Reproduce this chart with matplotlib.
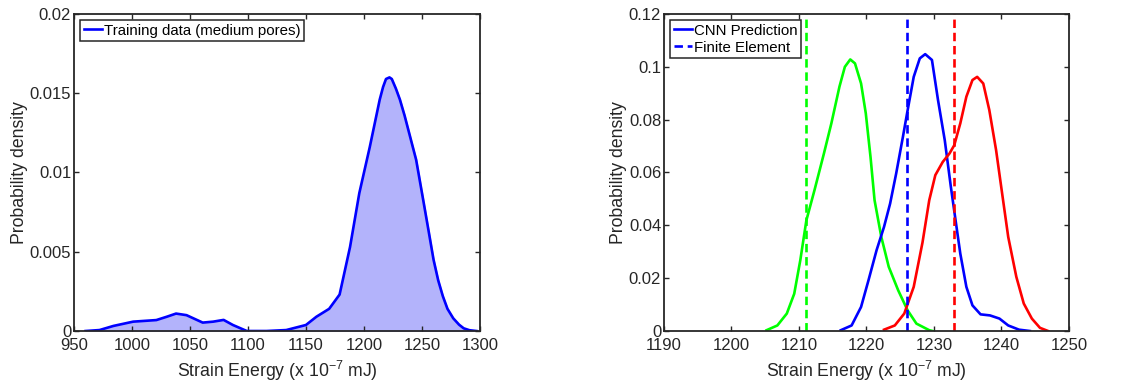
import matplotlib.pyplot as plt

plt.rcParams['font.family'] = ['Liberation Sans', 'DejaVu Sans']
plt.rcParams['mathtext.fontset'] = 'custom'
plt.rcParams['mathtext.rm'] = 'Liberation Sans'

# left panel: training data density
train_x = [960, 972, 984, 1001, 1013, 1021, 1030, 1038, 1047, 1061, 1070, 1079,
           1087, 1099, 1116, 1133, 1150, 1159, 1170, 1179, 1188, 1196, 1205,
           1213.6, 1216.5, 1219, 1222, 1224, 1227.5, 1231, 1235, 1240, 1245,
           1251, 1256, 1260, 1264, 1268, 1272, 1277, 1282, 1286, 1291, 1297]
train_y = [0, 0.00006, 0.00032, 0.00059, 0.00065, 0.00069, 0.0009, 0.0011, 0.001,
           0.00053, 0.00059, 0.0007, 0.00038, 0, 0, 0.00006, 0.00038, 0.0009,
           0.0014, 0.0023, 0.0053, 0.0087, 0.0116,
           0.0146, 0.0154, 0.0159, 0.0160, 0.0159, 0.0153, 0.0146, 0.0136, 0.0122, 0.0108,
           0.0083, 0.0062, 0.0045, 0.0032, 0.0022, 0.0014, 0.0008, 0.0004, 0.00017, 0.00005, 0]

# right panel: CNN prediction densities
green_x = [1205.2, 1206.8, 1208.2, 1209.3, 1210.2, 1211.1, 1212.3, 1213.7, 1214.8,
           1216.0, 1216.8, 1217.6, 1218.3, 1219.2, 1219.9, 1220.6, 1221.2, 1222.2,
           1223.3, 1224.7, 1226.1, 1227.4, 1229.3, 1229.8]
green_y = [0.0003, 0.0021, 0.0066, 0.0141, 0.0268, 0.0419, 0.0533, 0.0672, 0.0786,
           0.0925, 0.1, 0.1028, 0.1013, 0.0937, 0.0824, 0.0659, 0.0495, 0.0356,
           0.0243, 0.0154, 0.0078, 0.0028, 0.0003, 0]

blue_x = [1216.2, 1217.8, 1219.2, 1220.3, 1221.5, 1222.6, 1223.5, 1224.4, 1225.4,
          1226.1, 1227.0, 1227.9, 1228.7, 1229.7, 1230.6, 1231.6, 1232.5, 1233.2,
          1233.9, 1234.8, 1235.7, 1236.9, 1238.3, 1239.7, 1241.0, 1242.6, 1244.2]
blue_y = [0.0003, 0.0021, 0.0091, 0.0192, 0.0306, 0.0394, 0.0482, 0.0596, 0.0735,
          0.0836, 0.0962, 0.1032, 0.1048, 0.1026, 0.0874, 0.0722, 0.0546, 0.0419,
          0.0293, 0.0167, 0.0097, 0.0063, 0.0059, 0.0047, 0.0021, 0.0005, 0]

red_x = [1222.6, 1224.2, 1225.6, 1227.0, 1228.3, 1229.3, 1230.2, 1231.3, 1232.3,
         1233.0, 1233.9, 1234.8, 1235.7, 1236.4, 1237.3, 1238.2, 1239.2, 1240.1,
         1241.0, 1242.2, 1243.3, 1244.5, 1245.7, 1246.9]
red_y = [0.0005, 0.0021, 0.0066, 0.0167, 0.0335, 0.0495, 0.059, 0.064, 0.0672,
         0.0703, 0.0786, 0.0887, 0.095, 0.0962, 0.0937, 0.0836, 0.0685, 0.052,
         0.0356, 0.0205, 0.0104, 0.0047, 0.0012, 0]

# finite element values
fe_green = 1211
fe_blue = 1226
fe_red = 1233

edge = '#262626'
xlabel = r'Strain Energy (x 10$^{\mathregular{-7}}$ mJ)'
dash = (0, (3.2, 1.8))
lw = 1.9

fig = plt.figure(figsize=(11.33, 3.92), dpi=100)
ax1 = fig.add_axes([0.0653, 0.1556, 0.3583, 0.8087])
ax2 = fig.add_axes([0.586, 0.1556, 0.3575, 0.8087])

# left plot
ax1.fill_between(train_x, train_y, color='#b3b3fb')
ax1.plot(train_x, train_y, color='#0000ff', lw=lw, label='Training data (medium pores)')
ax1.set_xlim(950, 1300)
ax1.set_ylim(0, 0.02)
ax1.set_xticks(range(950, 1301, 50))
ax1.set_yticks([0, 0.005, 0.01, 0.015, 0.02])
ax1.set_yticklabels(['0', '0.005', '0.01', '0.015', '0.02'])
leg1 = ax1.legend(loc='upper left', fontsize=10.8, handlelength=1.2, handletextpad=0.15,
                  borderpad=0.25, borderaxespad=0.4, fancybox=False, framealpha=1)

# right plot
ax2.plot(green_x, green_y, color='#00ff00', lw=lw)
ax2.plot(blue_x, blue_y, color='#0000ff', lw=lw, label='CNN Prediction')
ax2.plot(red_x, red_y, color='#ff0000', lw=lw)
ax2.axvline(fe_green, color='#00ff00', lw=lw, ls=dash)
ax2.axvline(fe_blue, color='#0000ff', lw=lw, ls=dash, label='Finite Element')
ax2.axvline(fe_red, color='#ff0000', lw=lw, ls=dash)
ax2.set_xlim(1190, 1250)
ax2.set_ylim(0, 0.12)
ax2.set_xticks(range(1190, 1251, 10))
ax2.set_yticks([0, 0.02, 0.04, 0.06, 0.08, 0.1, 0.12])
ax2.set_yticklabels(['0', '0.02', '0.04', '0.06', '0.08', '0.1', '0.12'])
leg2 = ax2.legend(loc='upper left', fontsize=10.8, handlelength=1.2, handletextpad=0.15,
                  borderpad=0.25, borderaxespad=0.4, labelspacing=0.2,
                  fancybox=False, framealpha=1)

for ax, leg in ((ax1, leg1), (ax2, leg2)):
    ax.set_ylabel('Probability density', fontsize=12.7, color=edge, labelpad=1)
    ax.set_xlabel(xlabel, fontsize=12.7, color=edge, labelpad=4)
    ax.tick_params(direction='in', length=3.5, width=1.0, top=True, right=True,
                   labelsize=12, colors=edge)
    ax.tick_params(axis='x', pad=5)
    ax.tick_params(axis='y', pad=2)
    for s in ax.spines.values():
        s.set_color(edge)
        s.set_linewidth(1.3)
    leg.get_frame().set_edgecolor(edge)
    leg.get_frame().set_linewidth(1.1)

fig.savefig('out.png', dpi=100)
